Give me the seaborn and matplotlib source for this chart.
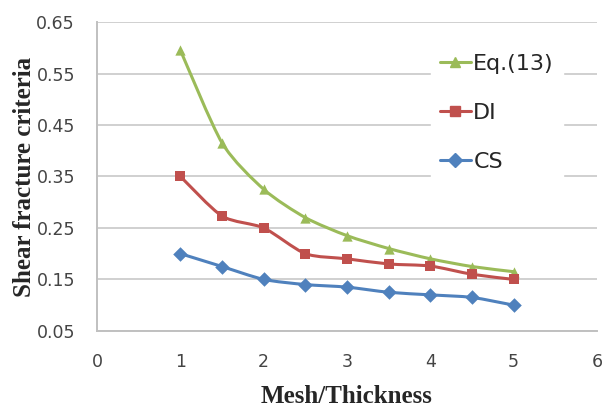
import numpy as np
import matplotlib
matplotlib.use("Agg")
import matplotlib.pyplot as plt
from matplotlib.path import Path
from matplotlib.patches import PathPatch
from matplotlib.lines import Line2D
import seaborn as sns

# data
mesh = [1, 1.5, 2, 2.5, 3, 3.5, 4, 4.5, 5]
eq13 = [0.595, 0.415, 0.325, 0.270, 0.235, 0.210, 0.190, 0.175, 0.165]
di = [0.350, 0.273, 0.250, 0.200, 0.190, 0.180, 0.176, 0.160, 0.150]
cs = [0.200, 0.175, 0.150, 0.140, 0.135, 0.125, 0.120, 0.115, 0.100]

series = [("Eq.(13)", eq13, "#9BBB59", "^"),
          ("DI", di, "#C0504D", "s"),
          ("CS", cs, "#4F81BD", "D")]

sns.set_style("white")
plt.rcParams["font.family"] = ["DejaVu Sans"]

fig = plt.figure(figsize=(6.07, 4.08), dpi=100)
ax = fig.add_axes([0.16, 0.189, 0.8235, 0.757])


def smooth_path(x, y):
    # Excel-style smoothed line: Catmull-Rom through the points as cubic beziers
    pts = np.column_stack([x, y])
    verts = [pts[0]]
    codes = [Path.MOVETO]
    n = len(pts)
    for i in range(n - 1):
        p0 = pts[i - 1] if i > 0 else pts[i]
        p1, p2 = pts[i], pts[i + 1]
        p3 = pts[i + 2] if i + 2 < n else pts[i + 1]
        c1 = p1 + (p2 - p0) / 8
        c2 = p2 - (p3 - p1) / 8
        verts += [c1, c2, p2]
        codes += [Path.CURVE4] * 3
    return Path(verts, codes)


handles = []
for label, vals, color, mk in series:
    ax.add_patch(PathPatch(smooth_path(mesh, vals), facecolor="none",
                           edgecolor=color, lw=2.2, zorder=3))
    sns.scatterplot(x=mesh, y=vals, marker=mk, color=color, s=55,
                    edgecolor=color, linewidth=0, zorder=4, ax=ax)
    handles.append(Line2D([0], [0], color=color, lw=2.2, marker=mk,
                          markersize=7, label=label))

ax.set_xlim(0, 6)
ax.set_ylim(0.05, 0.65)
ax.set_xticks(range(0, 7))
ax.set_yticks(np.arange(0.05, 0.66, 0.1))
ax.set_yticklabels([f"{v:.2f}" for v in np.arange(0.05, 0.66, 0.1)])
ax.grid(axis="y", color="#d0d0d0", lw=1.4)
ax.set_axisbelow(True)
for side in ["top", "right"]:
    ax.spines[side].set_visible(False)
for side in ["left", "bottom"]:
    ax.spines[side].set_color("#c0c0c0")
    ax.spines[side].set_linewidth(1.4)
ax.tick_params(length=0, labelsize=12.5, labelcolor="#444444")
ax.tick_params(axis="y", pad=16)
ax.tick_params(axis="x", pad=16)

ax.set_xlabel("Mesh/Thickness", family="Liberation Serif", fontweight="bold",
              fontsize=18, labelpad=10)
ax.set_ylabel("Shear fracture criteria", family="Liberation Serif",
              fontweight="bold", fontsize=18, labelpad=0)

leg = ax.legend(handles=handles, loc="upper left", bbox_to_anchor=(0.668, 0.925),
                frameon=True, fontsize=16, handlelength=1.4, handletextpad=0.1,
                labelspacing=1.3, borderpad=0.4, borderaxespad=0)
leg.get_frame().set_edgecolor("white")
leg.get_frame().set_facecolor("white")
leg.get_frame().set_alpha(1)

fig.savefig("out.png", dpi=100)
